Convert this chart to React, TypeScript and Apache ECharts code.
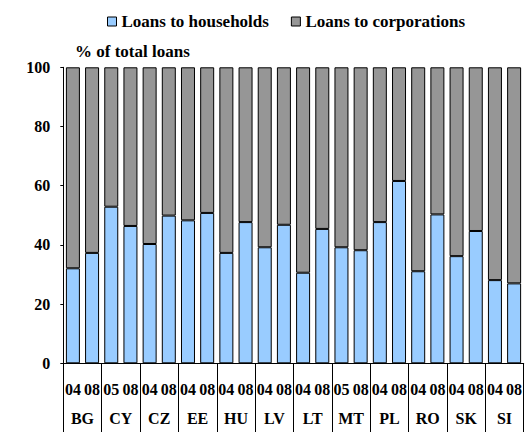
import React, { useEffect, useRef } from "react";
import * as echarts from "echarts";

const countries = ["BG", "CY", "CZ", "EE", "HU", "LV", "LT", "MT", "PL", "RO", "SK", "SI"];
const years = ["04", "08", "05", "08", "04", "08", "04", "08", "04", "08", "04", "08", "04", "08", "05", "08", "04", "08", "04", "08", "04", "08", "04", "08"];
const households = [32.1, 37.3, 52.9, 46.4, 40.3, 49.9, 48.3, 50.8, 37.3, 47.7, 39.2, 46.8, 30.6, 45.4, 39.2, 38.2, 47.7, 61.6, 31.1, 50.3, 36.2, 44.7, 28.1, 27.0];
const corporations = [67.9, 62.7, 47.1, 53.6, 59.7, 50.1, 51.7, 49.2, 62.7, 52.3, 60.8, 53.2, 69.4, 54.6, 60.8, 61.8, 52.3, 38.4, 68.9, 49.7, 63.8, 55.3, 71.9, 73.0];
const yTicks = { min: 0, max: 100, interval: 20 };

const FONT = "Liberation Serif";

export default function App() {
  const ref = useRef<HTMLDivElement>(null);
  useEffect(() => {
    if (!ref.current) return;
    const chart = echarts.init(ref.current, null, { renderer: "svg" });
    chart.setOption({
      animation: false,
      backgroundColor: "#ffffff",
      textStyle: { fontFamily: FONT },
      title: {
        text: "% of total loans",
        left: 70,
        top: 38,
        textStyle: { fontFamily: FONT, fontWeight: "bold", fontSize: 17, color: "#000" },
      },
      legend: {
        left: 102,
        top: 8,
        itemWidth: 9,
        itemHeight: 9,
        itemGap: 22,
        icon: "rect",
        itemStyle: { borderColor: "#000", borderWidth: 1 },
        textStyle: { fontFamily: FONT, fontWeight: "bold", fontSize: 17, color: "#000" },
        data: ["Loans to households", "Loans to corporations"],
      },
      grid: { left: 63.3, right: -4.6, top: 67.3, bottom: 68.7, containLabel: false },
      xAxis: [
        {
          type: "category",
          data: years,
          position: "bottom",
          axisLine: { show: true, lineStyle: { color: "#000", width: 1 } },
          axisTick: { show: false },
          axisLabel: {
            interval: 0,
            margin: 18,
            fontFamily: FONT,
            fontWeight: "bold",
            fontSize: 16,
            color: "#000",
          },
        },
        {
          type: "category",
          data: countries,
          position: "bottom",
          axisLine: { show: false },
          axisTick: { show: true, interval: 0, length: 70, lineStyle: { color: "#000", width: 1 } },
          axisLabel: {
            interval: 0,
            margin: 47,
            fontFamily: FONT,
            fontWeight: "bold",
            fontSize: 16,
            color: "#000",
          },
        },
      ],
      yAxis: {
        type: "value",
        min: yTicks.min,
        max: yTicks.max,
        interval: yTicks.interval,
        splitLine: { show: false },
        axisLine: { show: true, lineStyle: { color: "#000", width: 1 } },
        axisTick: { show: true, length: 3, lineStyle: { color: "#000" } },
        axisLabel: {
          margin: 13,
          fontFamily: FONT,
          fontWeight: "bold",
          fontSize: 16,
          color: "#000",
        },
      },
      series: [
        {
          name: "Loans to households",
          type: "bar",
          stack: "total",
          xAxisIndex: 0,
          barWidth: 14,
          data: households,
          itemStyle: { color: "#99CCFF", borderColor: "#000", borderWidth: 1 },
        },
        {
          name: "Loans to corporations",
          type: "bar",
          stack: "total",
          xAxisIndex: 0,
          barWidth: 14,
          data: corporations,
          itemStyle: { color: "#969696", borderColor: "#000", borderWidth: 1 },
        },
      ],
    });
    return () => chart.dispose();
  }, []);
  return (
    <div
      ref={ref}
      style={{ position: "fixed", left: 0, top: 0, width: 525, height: 432, background: "#fff" }}
    />
  );
}
